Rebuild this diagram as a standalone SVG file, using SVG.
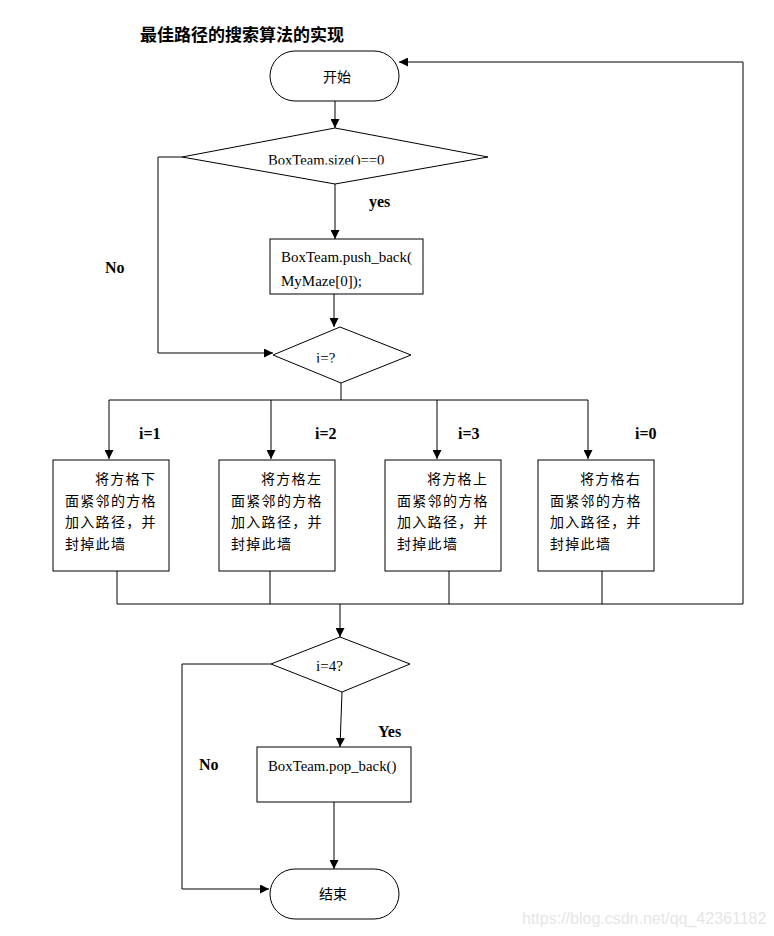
<svg xmlns="http://www.w3.org/2000/svg" width="774" height="936" viewBox="0 0 774 936">
<style>
.shape{fill:#fff;stroke:#000;stroke-width:1}
.ln{fill:none;stroke:#000;stroke-width:1}
.en{font-family:"Liberation Serif","Times New Roman",serif;fill:#000}
.b{font-weight:bold;font-size:16px}
.cn{font-family:"Noto Sans CJK SC",sans-serif;font-size:14px;fill:#000}
.box{font-family:"Noto Sans CJK SC",sans-serif;font-size:14px;letter-spacing:1.3px;fill:#000}
</style>
<defs>
<marker id="ah" viewBox="0 0 10 10" refX="10" refY="5" markerWidth="9" markerHeight="9" markerUnits="userSpaceOnUse" orient="auto">
<path d="M0,0 L10,5 L0,10 Z" fill="#000"/>
</marker>
<clipPath id="c1"><rect x="180" y="140" width="300" height="24.5"/></clipPath>
<clipPath id="c2"><rect x="280" y="340" width="120" height="22.5"/></clipPath>
</defs>
<rect width="774" height="936" fill="#fff"/>
<text x="140" y="41" font-family="Noto Sans CJK SC,sans-serif" font-weight="bold" font-size="17">最佳路径的搜索算法的实现</text>

<g id="connectors">
<path class="ln" d="M335,101 V128" marker-end="url(#ah)"/>
<path class="ln" d="M335,184 V239" marker-end="url(#ah)"/>
<path class="ln" d="M182,157 H158 V353 H273" marker-end="url(#ah)"/>
<path class="ln" d="M334,294 V327" marker-end="url(#ah)"/>
<path class="ln" d="M341,383 V400 M109,400 H588"/>
<path class="ln" d="M109,400 V459" marker-end="url(#ah)"/>
<path class="ln" d="M271,400 V459" marker-end="url(#ah)"/>
<path class="ln" d="M437,400 V459" marker-end="url(#ah)"/>
<path class="ln" d="M588,400 V459" marker-end="url(#ah)"/>
<path class="ln" d="M117,571 V604 M270,571 V604 M449,571 V604 M602,571 V604"/>
<path class="ln" d="M117,604 H743 V62 H399" marker-end="url(#ah)"/>
<path class="ln" d="M340,604 V637" marker-end="url(#ah)"/>
<path class="ln" d="M271,664 H182 V889 H269" marker-end="url(#ah)"/>
<path class="ln" d="M342,692 L340,747" marker-end="url(#ah)"/>
<path class="ln" d="M334,802 V869" marker-end="url(#ah)"/>
</g>

<g id="start">
<rect class="shape" x="270" y="51" width="129" height="50" rx="25" ry="25"/>
<text class="cn" x="337" y="82" text-anchor="middle">开始</text>
</g>

<g id="cond-size">
<polygon class="shape" points="335,128 488,157 335,184 182,157"/>
<text class="en" x="268" y="165" font-size="14.6" clip-path="url(#c1)">BoxTeam.size()==0</text>
</g>

<g id="push">
<rect class="shape" x="270" y="239" width="153" height="55"/>
<text class="en" x="281" y="262" font-size="15">BoxTeam.push_back(</text>
<text class="en" x="281" y="286" font-size="15">MyMaze[0]);</text>
</g>

<g id="cond-i">
<polygon class="shape" points="340,327 411,355 341,383 273,355"/>
<text class="en" x="316" y="363" font-size="15" clip-path="url(#c2)">i=?</text>
</g>

<g id="box-down">
<rect class="shape" x="53" y="460" width="116" height="111"/>
<text class="box" x="95" y="484">将方格下</text>
<text class="box" x="65" y="505.5">面紧邻的方格</text>
<text class="box" x="65" y="527">加入路径，并</text>
<text class="box" x="65" y="548.5">封掉此墙</text>
</g>
<g id="box-left">
<rect class="shape" x="219" y="460" width="116" height="111"/>
<text class="box" x="261" y="484">将方格左</text>
<text class="box" x="231" y="505.5">面紧邻的方格</text>
<text class="box" x="231" y="527">加入路径，并</text>
<text class="box" x="231" y="548.5">封掉此墙</text>
</g>
<g id="box-up">
<rect class="shape" x="385" y="460" width="116" height="111"/>
<text class="box" x="427" y="484">将方格上</text>
<text class="box" x="397" y="505.5">面紧邻的方格</text>
<text class="box" x="397" y="527">加入路径，并</text>
<text class="box" x="397" y="548.5">封掉此墙</text>
</g>
<g id="box-right">
<rect class="shape" x="538" y="460" width="116" height="111"/>
<text class="box" x="580" y="484">将方格右</text>
<text class="box" x="550" y="505.5">面紧邻的方格</text>
<text class="box" x="550" y="527">加入路径，并</text>
<text class="box" x="550" y="548.5">封掉此墙</text>
</g>

<g id="cond-4">
<polygon class="shape" points="340,637 410,664 342,692 271,664"/>
<text class="en" x="316" y="671" font-size="15">i=4?</text>
</g>

<g id="pop">
<rect class="shape" x="257" y="747" width="154" height="55"/>
<text class="en" x="268" y="771" font-size="14.8">BoxTeam.pop_back()</text>
</g>

<g id="end">
<rect class="shape" x="270" y="869" width="129" height="50" rx="25" ry="25"/>
<text class="cn" x="333" y="899" text-anchor="middle">结束</text>
</g>

<g id="labels">
<text class="en b" x="369" y="207">yes</text>
<text class="en b" x="105" y="273">No</text>
<text class="en b" x="139" y="439">i=1</text>
<text class="en b" x="315" y="439">i=2</text>
<text class="en b" x="458" y="439">i=3</text>
<text class="en b" x="635" y="439">i=0</text>
<text class="en b" x="378" y="737">Yes</text>
<text class="en b" x="199" y="770">No</text>
</g>

<text x="522" y="924" font-family="Liberation Sans,Arial,sans-serif" font-size="16" fill="#e6e6e6">https://blog.csdn.net/qq_42361182</text>
</svg>
